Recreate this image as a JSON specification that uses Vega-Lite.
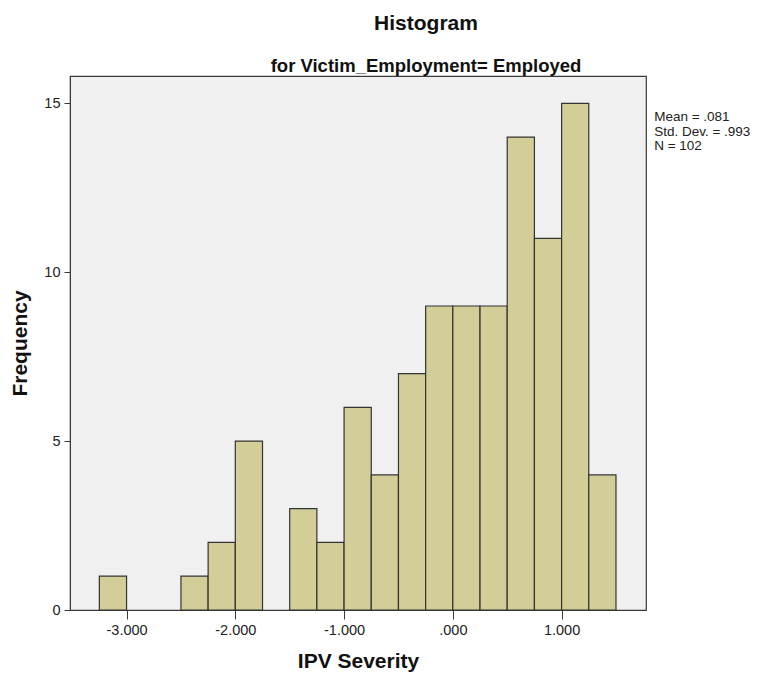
{
  "$schema": "https://vega.github.io/schema/vega-lite/v6.json",
  "width": 576,
  "height": 534,
  "autosize": {"type": "none"},
  "padding": {"left": 70, "top": 76, "right": 119, "bottom": 64},
  "background": "white",
  "title": {
    "text": "Histogram",
    "subtitle": "for Victim_Employment= Employed",
    "anchor": "middle",
    "dx": 68,
    "offset": 1,
    "font": "Liberation Sans",
    "fontSize": 21,
    "fontWeight": "bold",
    "color": "#111",
    "subtitleFont": "Liberation Sans",
    "subtitleFontSize": 18.5,
    "subtitleFontWeight": "bold",
    "subtitleColor": "#111",
    "subtitlePadding": 23
  },
  "config": {
    "view": {"fill": "#f0f0f0", "stroke": "#3a3a3a", "strokeWidth": 1.2},
    "axis": {
      "grid": false,
      "domainColor": "#3a3a3a",
      "tickColor": "#3a3a3a",
      "labelFont": "Liberation Sans",
      "labelFontSize": 14.5,
      "labelColor": "#222",
      "titleFont": "Liberation Sans",
      "titleFontSize": 21,
      "titleFontWeight": "bold",
      "titleColor": "#111"
    }
  },
  "datasets": {
    "bins": [
      {"bin_start": -3.25, "bin_end": -3.0, "count": 1},
      {"bin_start": -2.5, "bin_end": -2.25, "count": 1},
      {"bin_start": -2.25, "bin_end": -2.0, "count": 2},
      {"bin_start": -2.0, "bin_end": -1.75, "count": 5},
      {"bin_start": -1.5, "bin_end": -1.25, "count": 3},
      {"bin_start": -1.25, "bin_end": -1.0, "count": 2},
      {"bin_start": -1.0, "bin_end": -0.75, "count": 6},
      {"bin_start": -0.75, "bin_end": -0.5, "count": 4},
      {"bin_start": -0.5, "bin_end": -0.25, "count": 7},
      {"bin_start": -0.25, "bin_end": 0.0, "count": 9},
      {"bin_start": 0.0, "bin_end": 0.25, "count": 9},
      {"bin_start": 0.25, "bin_end": 0.5, "count": 9},
      {"bin_start": 0.5, "bin_end": 0.75, "count": 14},
      {"bin_start": 0.75, "bin_end": 1.0, "count": 11},
      {"bin_start": 1.0, "bin_end": 1.25, "count": 15},
      {"bin_start": 1.25, "bin_end": 1.5, "count": 4}
    ],
    "stats": [
      {"label": "Mean = .081\nStd. Dev. = .993\nN = 102", "x": 1.851, "y": 14.485}
    ]
  },
  "layer": [
    {
      "data": {"name": "bins"},
      "mark": {"type": "rect", "fill": "#d3ce97", "stroke": "#333333", "strokeWidth": 1.2},
      "encoding": {
        "x": {
          "field": "bin_start",
          "type": "quantitative",
          "scale": {"domain": [-3.52, 1.776], "nice": false, "zero": false},
          "axis": {
            "title": "IPV Severity",
            "values": [-3, -2, -1, 0, 1],
            "labelExpr": "datum.value == 0 ? '.000' : (datum.value < 0 ? '-' : '') + format(abs(datum.value), '.3f')",
            "tickSize": 9,
            "labelPadding": 4,
            "titlePadding": 14,
            "domain": true
          }
        },
        "x2": {"field": "bin_end"},
        "y": {
          "field": "count",
          "type": "quantitative",
          "scale": {"domain": [0, 15.81], "nice": false},
          "axis": {
            "title": "Frequency",
            "values": [0, 5, 10, 15],
            "tickSize": 6,
            "labelPadding": 4,
            "titlePadding": 13
          }
        },
        "y2": {"datum": 0}
      }
    },
    {
      "data": {"name": "stats"},
      "mark": {
        "type": "text",
        "align": "left",
        "baseline": "alphabetic",
        "lineBreak": "\n",
        "lineHeight": 14.8,
        "font": "Liberation Sans",
        "fontSize": 13.5,
        "color": "#222",
        "clip": false
      },
      "encoding": {
        "x": {"field": "x", "type": "quantitative"},
        "y": {"field": "y", "type": "quantitative"},
        "text": {"field": "label", "type": "nominal"}
      }
    }
  ]
}
